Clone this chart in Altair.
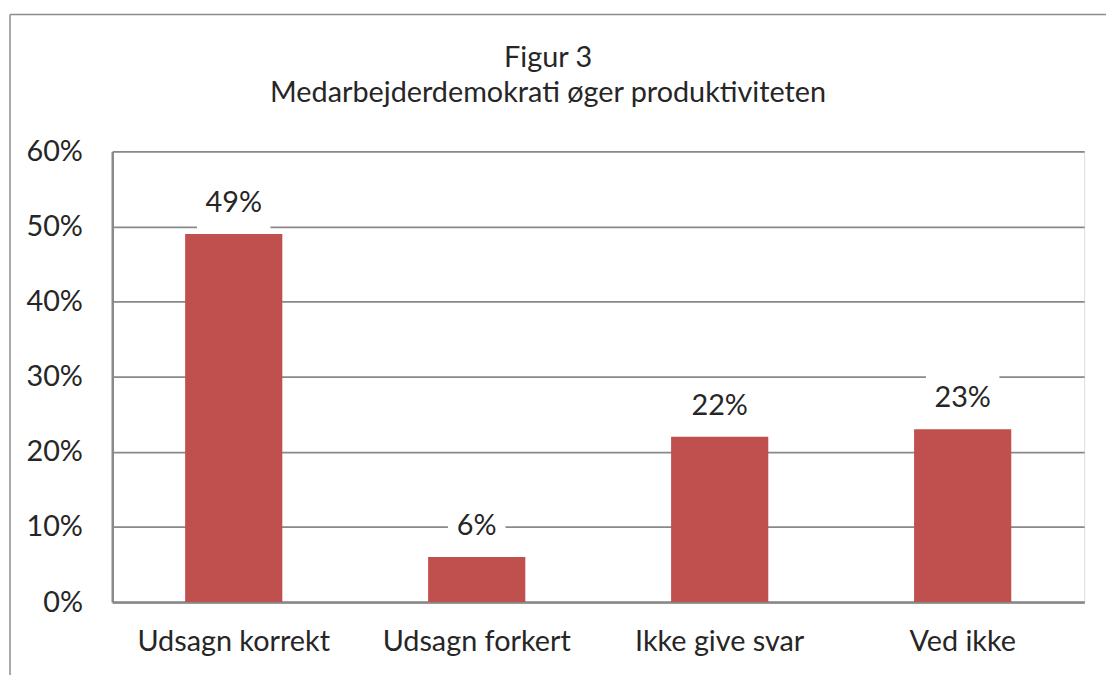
import altair as alt
import pandas as pd

categories = ["Udsagn korrekt", "Udsagn forkert", "Ikke give svar", "Ved ikke"]
values = [0.49, 0.06, 0.22, 0.23]
title_lines = ["Figur 3", "Medarbejderdemokrati øger produktiviteten"]

df = pd.DataFrame({"cat": categories, "v": values})
one = pd.DataFrame({"k": [0]})

FONT = "Lato"
TXT = "#262626"
GRID = "#898989"
FS = 29

x_enc = alt.X("cat:N", sort=categories, title=None,
              scale=alt.Scale(paddingInner=0.6, paddingOuter=0.3),
              axis=alt.Axis(labelAngle=0, labelFont=FONT, labelFontSize=FS, labelColor=TXT,
                            labelFontWeight="normal", labelLimit=400,
                            ticks=False, tickSize=0, labelPadding=49, labelBaseline="alphabetic",
                            domainColor=GRID, domainWidth=2.5, grid=False))
y_scale = alt.Scale(domain=[0, 0.6], nice=False)

base = alt.Chart(df)

bars = base.mark_bar(color="#C0504D").encode(
    x=x_enc,
    y=alt.Y("v:Q", scale=y_scale, title=None,
            axis=alt.Axis(format=".0%", values=[0, 0.1, 0.2, 0.3, 0.4, 0.5, 0.6],
                          labelFont=FONT, labelFontSize=FS, labelColor=TXT,
                          labelFontWeight="normal",
                          ticks=False, tickSize=0, labelPadding=30,
                          domainColor=GRID, domainWidth=2.5,
                          gridColor=GRID, gridWidth=1.75)),
)

box_base = base.transform_calculate(lo="datum.v + 0.005", hi="datum.v + 0.074")
box_wide = box_base.transform_filter("datum.v >= 0.1").mark_bar(color="white", width=74).encode(
    x=alt.X("cat:N", sort=categories), y=alt.Y("lo:Q", scale=y_scale), y2="hi:Q")
box_narrow = box_base.transform_filter("datum.v < 0.1").mark_bar(color="white", width=58).encode(
    x=alt.X("cat:N", sort=categories), y=alt.Y("lo:Q", scale=y_scale), y2="hi:Q")

labels = base.mark_text(font=FONT, fontSize=FS, fontWeight="normal", color=TXT,
                        baseline="alphabetic", dy=-22).encode(
    x=alt.X("cat:N", sort=categories),
    y=alt.Y("v:Q", scale=y_scale),
    text=alt.Text("v:Q", format=".0%"),
)

title1 = alt.Chart(one).mark_text(font=FONT, fontSize=FS, fontWeight="normal", color=TXT,
                                  baseline="alphabetic", align="center").encode(
    x=alt.value(439), y=alt.value(-85), text=alt.value(title_lines[0]))
title2 = alt.Chart(one).mark_text(font=FONT, fontSize=FS, fontWeight="normal", color=TXT,
                                  baseline="alphabetic", align="center").encode(
    x=alt.value(439), y=alt.value(-50), text=alt.value(title_lines[1]))

border_left = alt.Chart(one).mark_rule(color="#8c8c8c", strokeWidth=1.5).encode(
    x=alt.value(-103), y=alt.value(-138), y2=alt.value(560))
border_top = alt.Chart(one).mark_rule(color="#8c8c8c", strokeWidth=1.5).encode(
    x=alt.value(-103), x2=alt.value(1100), y=alt.value(-138))

chart = alt.layer(bars, box_wide, box_narrow, labels, title1, title2, border_left, border_top).properties(
    width=979, height=454,
    autosize=alt.AutoSizeParams(type="none"),
    padding={"left": 105, "top": 142, "right": 22, "bottom": 71},
).configure_view(stroke=None).configure(background="white")

chart.save("out.html", embed_options={"renderer": "svg", "actions": False})
